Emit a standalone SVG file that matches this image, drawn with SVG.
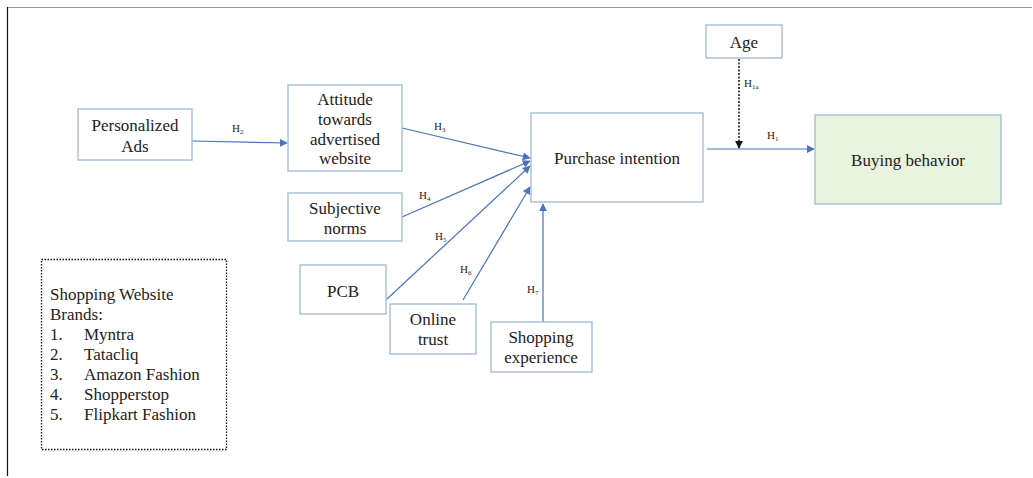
<svg xmlns="http://www.w3.org/2000/svg" width="1033" height="478" viewBox="0 0 1033 478">
<defs>
<style>
.box{fill:#ffffff;stroke:#9dbad6;stroke-width:1.3}
.t{font-family:"Liberation Serif","Times New Roman",serif;font-size:17px;fill:#222;text-anchor:middle}
.lt{font-family:"Liberation Serif","Times New Roman",serif;font-size:17px;fill:#222}
.h{font-family:"Liberation Serif","Times New Roman",serif;font-size:11px;fill:#222}
.sub{font-size:7px}
.c{stroke:#4a74b8;stroke-width:1.2;fill:none}
</style>
<marker id="ab" viewBox="0 0 10 10" refX="9" refY="5" markerWidth="8" markerHeight="8" markerUnits="userSpaceOnUse" orient="auto"><path d="M0,0 L10,5 L0,10 z" fill="#4a74b8"/></marker>
<marker id="ak" viewBox="0 0 10 10" refX="9" refY="5" markerWidth="8" markerHeight="8" markerUnits="userSpaceOnUse" orient="auto"><path d="M0,0 L10,5 L0,10 z" fill="#111"/></marker>
</defs>
<rect width="1033" height="478" fill="#ffffff"/>
<g id="frame">
<line x1="7" y1="7.5" x2="1032" y2="7.5" stroke="#999" stroke-width="1.2"/>
<line x1="7.5" y1="7" x2="7.5" y2="476" stroke="#111" stroke-width="1.2"/>
</g>
<g id="connectors">
<line class="c" x1="192" y1="141" x2="287" y2="143" marker-end="url(#ab)"/>
<line class="c" x1="402" y1="128" x2="530" y2="158" marker-end="url(#ab)"/>
<line class="c" x1="402" y1="217" x2="530" y2="161" marker-end="url(#ab)"/>
<line class="c" x1="387" y1="299" x2="530" y2="166" marker-end="url(#ab)"/>
<line class="c" x1="463" y1="300" x2="530" y2="187" marker-end="url(#ab)"/>
<line class="c" x1="543" y1="322" x2="543" y2="204" marker-end="url(#ab)"/>
<line class="c" x1="707" y1="149" x2="814" y2="149" marker-end="url(#ab)"/>
<line x1="739" y1="59" x2="739" y2="148" stroke="#111" stroke-width="1.5" stroke-dasharray="2,1.5" marker-end="url(#ak)"/>
<text class="h" x="232" y="132">H<tspan class="sub" dy="2">2</tspan></text>
<text class="h" x="434" y="130">H<tspan class="sub" dy="2">3</tspan></text>
<text class="h" x="419" y="199">H<tspan class="sub" dy="2">4</tspan></text>
<text class="h" x="435" y="240">H<tspan class="sub" dy="2">5</tspan></text>
<text class="h" x="460" y="273">H<tspan class="sub" dy="2">6</tspan></text>
<text class="h" x="527" y="293">H<tspan class="sub" dy="2">7</tspan></text>
<text class="h" x="767" y="139">H<tspan class="sub" dy="2">1</tspan></text>
<text class="h" x="744" y="87">H<tspan class="sub" dy="2">1a</tspan></text>
</g>
<g id="personalized-ads">
<rect class="box" x="78" y="109" width="114" height="51"/>
<text class="t" x="135" y="131">Personalized</text>
<text class="t" x="135" y="152">Ads</text>
</g>
<g id="attitude">
<rect class="box" x="288" y="85" width="114" height="86"/>
<text class="t" x="345" y="105">Attitude</text>
<text class="t" x="345" y="125">towards</text>
<text class="t" x="345" y="145">advertised</text>
<text class="t" x="345" y="164">website</text>
</g>
<g id="subjective-norms">
<rect class="box" x="288" y="193" width="114" height="48"/>
<text class="t" x="345" y="214">Subjective</text>
<text class="t" x="345" y="234">norms</text>
</g>
<g id="pcb">
<rect class="box" x="300" y="265" width="86" height="49"/>
<text class="t" x="343" y="297">PCB</text>
</g>
<g id="online-trust">
<rect class="box" x="390" y="304" width="86" height="50"/>
<text class="t" x="433" y="325">Online</text>
<text class="t" x="433" y="345">trust</text>
</g>
<g id="shopping-experience">
<rect class="box" x="491" y="322" width="101" height="50"/>
<text class="t" x="541" y="343">Shopping</text>
<text class="t" x="541" y="363">experience</text>
</g>
<g id="purchase-intention">
<rect class="box" x="531" y="113" width="172" height="89"/>
<text class="t" x="617" y="164">Purchase intention</text>
</g>
<g id="age">
<rect class="box" x="706" y="25" width="76" height="33"/>
<text class="t" x="744" y="48">Age</text>
</g>
<g id="buying-behavior">
<rect class="box" x="815" y="115" width="186" height="89" fill="#e9f3dd" style="fill:#e9f3dd"/>
<text class="t" x="908" y="166">Buying behavior</text>
</g>
<g id="legend">
<rect x="41.5" y="259.5" width="185" height="190" fill="none" stroke="#111" stroke-width="1.3" stroke-dasharray="1.5,1.5"/>
<text class="lt" x="50" y="300">Shopping Website</text>
<text class="lt" x="50" y="320">Brands:</text>
<text class="lt" x="50" y="340">1.</text><text class="lt" x="84" y="340">Myntra</text>
<text class="lt" x="50" y="360">2.</text><text class="lt" x="84" y="360">Tatacliq</text>
<text class="lt" x="50" y="380">3.</text><text class="lt" x="84" y="380">Amazon Fashion</text>
<text class="lt" x="50" y="400">4.</text><text class="lt" x="84" y="400">Shopperstop</text>
<text class="lt" x="50" y="420">5.</text><text class="lt" x="84" y="420">Flipkart Fashion</text>
</g>
</svg>
